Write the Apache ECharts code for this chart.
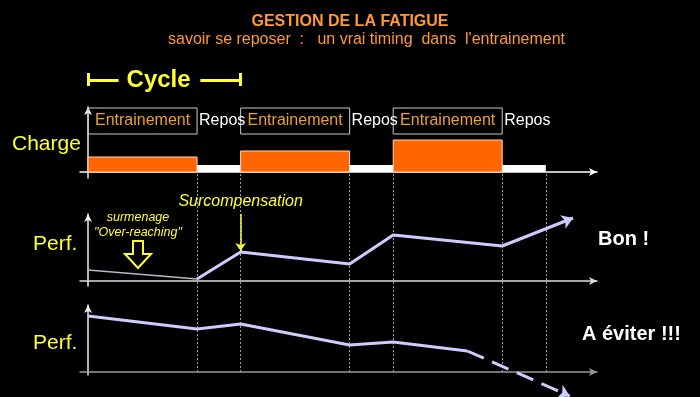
<!DOCTYPE html>
<html>
<head>
<meta charset="utf-8">
<script src="https://cdn.jsdelivr.net/npm/echarts@6/dist/echarts.min.js"></script>
<style>
  html, body { margin: 0; padding: 0; background: #000; }
  #main { width: 700px; height: 397px; }
</style>
</head>
<body>
<div id="main"></div>
<script>
// phases du cycle (jours)
var phases = ['Entrainement', 'Repos', 'Entrainement', 'Repos', 'Entrainement', 'Repos'];
var phaseStart = [0, 5, 7, 12, 14, 19];
var phaseEnd = [5, 7, 12, 14, 19, 21];
var charge = [15, 7, 21, 7, 32, 7];

// performance : bon timing
var perfX = [0, 5, 7, 12, 14, 19];
var perfBon = [11, 2, 29, 17, 46, 35];
var bonArrowEnd = [22.25, 63];

// performance : a eviter
var eviterX = [0, 5, 7, 12, 14, 17.4];
var perfEviter = [56, 43, 48, 27, 30, 21];
var eviterArrowEnd = [22.1, -24];

var cycleDays = [0, 7];
var overReaching = [2.29, 26.5];

var YELLOW = '#ffff33';
var LAVENDER = '#ccccff';
var FONT = 'Liberation Sans';

var myChart = echarts.init(document.getElementById('main'));

var xMin = -0.37, xMax = 23.35;

function xAxisOf(idx, color, show) {
    return {
        type: 'value', gridIndex: idx, min: xMin, max: xMax,
        axisLine: { show: show, onZero: true, symbol: ['none', 'arrow'], symbolSize: [6, 8],
            lineStyle: { color: color, width: 1.5 } },
        axisTick: { show: false }, axisLabel: { show: false }, splitLine: { show: false }
    };
}
function yAxisOf(idx, min, max, show) {
    return {
        type: 'value', gridIndex: idx, min: min, max: max,
        axisLine: { show: show, onZero: true, symbol: ['none', 'arrow'], symbolSize: [6, 8],
            lineStyle: { color: '#eeeeee', width: 1.5 } },
        axisTick: { show: false }, axisLabel: { show: false }, splitLine: { show: false }
    };
}
function label(text, left, top, color, size, bold) {
    return { text: text, left: left, top: top, padding: 0,
        textStyle: { color: color, fontSize: size, fontWeight: bold ? 'bold' : 'normal', fontFamily: FONT } };
}

var pairs = function (xs, ys) {
    return xs.map(function (x, i) { return [x, ys[i]]; });
};

var barData = phases.map(function (p, i) {
    return [phaseStart[i], phaseEnd[i], charge[i]];
});

var boxes = [], restLabels = [];
phases.forEach(function (p, i) {
    if (p === 'Entrainement') {
        boxes.push([{ xAxis: phaseStart[i], yAxis: 38, name: p }, { xAxis: phaseEnd[i], yAxis: 64 }]);
    } else {
        restLabels.push([{ xAxis: phaseStart[i], yAxis: 38, name: p,
            itemStyle: { borderWidth: 0 },
            label: { position: 'insideLeft', distance: 2, color: '#ffffff' } },
            { xAxis: phaseEnd[i], yAxis: 64 }]);
    }
});

var dividers = [];
phaseEnd.forEach(function (x) { dividers.push({ coords: [[x, 0], [x, 1]] }); });

var option = {
    backgroundColor: '#000',
    textStyle: { fontFamily: FONT },
    animation: false,
    title: [
        label('GESTION DE LA FATIGUE', 'center', 14, '#ff9933', 16, true),
        label('savoir se reposer  :   un vrai timing  dans  l\'entrainement', 168, 32, '#ff9933', 16, false),
        label('Charge', 12, 134, YELLOW, 21, false),
        label('Perf.', 33, 234, YELLOW, 21, false),
        label('Perf.', 33, 333, YELLOW, 21, false),
        label('Bon !', 598, 229, '#ffffff', 20, true),
        label('A éviter !!!', 582, 324, '#ffffff', 20, true)
    ],
    grid: [
        { left: 80, right: 103, top: 107, height: 71, outerBoundsMode: 'none' },
        { left: 80, right: 103, top: 214, height: 72, outerBoundsMode: 'none' },
        { left: 80, right: 103, top: 305, height: 70, outerBoundsMode: 'none' },
        { left: 80, right: 103, top: 172, height: 200, outerBoundsMode: 'none' }
    ],
    xAxis: [
        xAxisOf(0, '#ffffff', true),
        xAxisOf(1, '#dddddd', true),
        xAxisOf(2, '#999999', true),
        xAxisOf(3, '#000', false)
    ],
    yAxis: [
        yAxisOf(0, -6, 65, true),
        yAxisOf(1, -5, 67, true),
        yAxisOf(2, -3, 67, true),
        yAxisOf(3, 0, 1, false)
    ],
    series: [
        {
            // traits pointilles
            type: 'lines', coordinateSystem: 'cartesian2d', xAxisIndex: 3, yAxisIndex: 3,
            symbol: 'none', z: 1,
            lineStyle: { color: '#9a9a9a', width: 1, type: [2, 2], opacity: 1 },
            data: dividers
        },
        {
            type: 'custom', xAxisIndex: 0, yAxisIndex: 0, z: 3,
            encode: { x: [0, 1], y: 2 },
            renderItem: function (params, api) {
                var p0 = api.coord([api.value(0), api.value(2)]);
                var p1 = api.coord([api.value(1), 0]);
                var rest = phases[params.dataIndex] === 'Repos';
                return {
                    type: 'rect',
                    shape: { x: p0[0], y: p0[1], width: p1[0] - p0[0], height: p1[1] - p0[1] },
                    style: { fill: rest ? '#ffffff' : '#ff6600', stroke: rest ? null : '#ffd6bf', lineWidth: 1 }
                };
            },
            data: barData,
            markArea: {
                silent: true,
                itemStyle: { color: 'rgba(0,0,0,0)', borderColor: '#c8c8c8', borderWidth: 1 },
                label: { show: true, position: 'inside', color: '#eba030', fontSize: 16, fontFamily: FONT },
                data: boxes.concat(restLabels)
            }
        },
        {
            // Cycle
            type: 'lines', coordinateSystem: 'cartesian2d', xAxisIndex: 0, yAxisIndex: 0,
            symbol: 'none', clip: false,
            lineStyle: { color: YELLOW, width: 3, opacity: 1 },
            data: [
                { coords: [[cycleDays[0], 92], [cycleDays[0] + 1.4, 92]],
                  label: { show: true, position: 'end', distance: 8, formatter: 'Cycle',
                      color: YELLOW, fontSize: 24, fontWeight: 'bold', fontFamily: FONT } },
                { coords: [[cycleDays[1] - 1.85, 92], [cycleDays[1], 92]] },
                { coords: [[cycleDays[0], 86], [cycleDays[0], 99]] },
                { coords: [[cycleDays[1], 86], [cycleDays[1], 99]] }
            ]
        },
        {
            // surmenage
            type: 'line', xAxisIndex: 1, yAxisIndex: 1, symbol: 'none', z: 4,
            lineStyle: { color: '#b8b8c0', width: 1.5 },
            data: pairs(perfX.slice(0, 2), perfBon.slice(0, 2)),
            markPoint: {
                silent: true,
                symbol: 'path://M8,0 L18,0 L18,13 L26,13 L13,27 L0,13 L8,13 Z',
                symbolSize: [26, 27],
                itemStyle: { color: 'rgba(0,0,0,0)', borderColor: YELLOW, borderWidth: 2 },
                label: { show: true, position: 'top', distance: 0,
                    formatter: 'surmenage\n"Over-reaching"',
                    color: YELLOW, fontSize: 12.5, lineHeight: 15, fontStyle: 'italic', fontFamily: FONT },
                data: [{ coord: overReaching }]
            }
        },
        {
            type: 'line', xAxisIndex: 1, yAxisIndex: 1, symbol: 'none', z: 4,
            lineStyle: { color: LAVENDER, width: 3 },
            data: pairs(perfX.slice(1), perfBon.slice(1))
        },
        {
            type: 'lines', coordinateSystem: 'cartesian2d', xAxisIndex: 1, yAxisIndex: 1,
            symbol: ['none', 'arrow'], symbolSize: 11, clip: false, z: 4,
            lineStyle: { color: LAVENDER, width: 3, opacity: 1 },
            data: [{ coords: [[perfX[perfX.length - 1], perfBon[perfBon.length - 1]], bonArrowEnd] }]
        },
        {
            // Surcompensation
            type: 'lines', coordinateSystem: 'cartesian2d', xAxisIndex: 1, yAxisIndex: 1,
            symbol: ['none', 'arrow'], symbolSize: 8, clip: false, z: 5,
            lineStyle: { color: YELLOW, width: 1.5, opacity: 1 },
            label: { show: true, position: 'start', distance: 4, formatter: 'Surcompensation',
                color: YELLOW, fontSize: 16, fontStyle: 'italic', fontFamily: FONT },
            data: [{ coords: [[perfX[2], 67], [perfX[2], perfBon[2] + 1]] }]
        },
        {
            type: 'line', xAxisIndex: 2, yAxisIndex: 2, symbol: 'none', z: 4,
            lineStyle: { color: LAVENDER, width: 3 },
            data: pairs(eviterX, perfEviter)
        },
        {
            type: 'lines', coordinateSystem: 'cartesian2d', xAxisIndex: 2, yAxisIndex: 2,
            symbol: ['none', 'arrow'], symbolSize: 11, clip: false, z: 4,
            lineStyle: { color: LAVENDER, width: 3, type: [18, 9], opacity: 1 },
            data: [{ coords: [[eviterX[eviterX.length - 1], perfEviter[perfEviter.length - 1]], eviterArrowEnd] }]
        }
    ]
};
myChart.setOption(option);
</script>
</body>
</html>
